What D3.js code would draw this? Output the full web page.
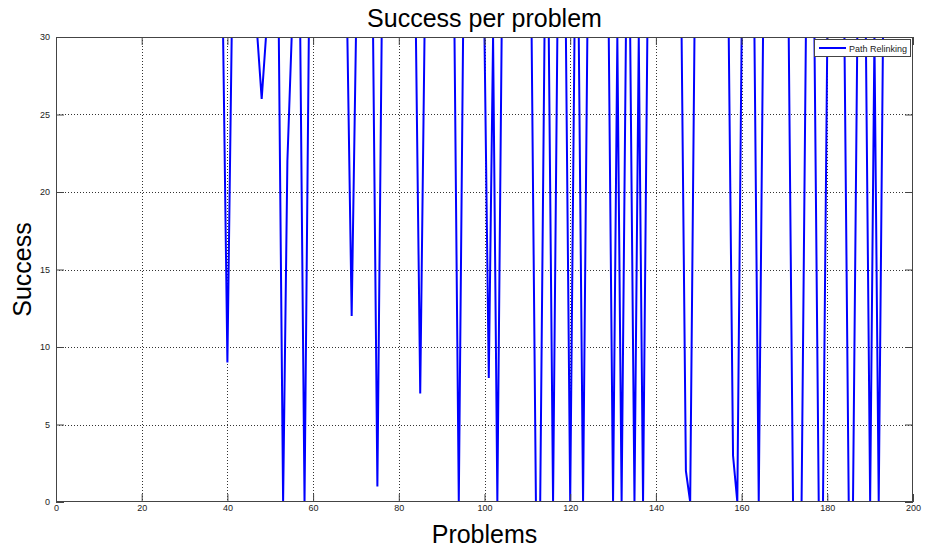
<!DOCTYPE html>
<html>
<head>
<meta charset="utf-8">
<script src="https://cdn.jsdelivr.net/npm/d3@7/dist/d3.min.js"></script>
<style>
  html, body { margin: 0; padding: 0; background: #fff; }
  svg { display: block; }
</style>
</head>
<body>
<div id="chart"></div>
<script>
// Successful runs (out of 30) for each of the 200 test problems
const problems = d3.range(1, 201);
const success = [
  30,30,30,30,30,30,30,30,30,30,
  30,30,30,30,30,30,30,30,30,30,
  30,30,30,30,30,30,30,30,30,30,
  30,30,30,30,30,30,30,30,30,9,
  30,30,30,30,30,30,30,26,30,30,
  30,30,0,22,30,30,30,0,30,30,
  30,30,30,30,30,30,30,30,12,30,
  30,30,30,30,1,30,30,30,30,30,
  30,30,30,30,7,30,30,30,30,30,
  30,30,30,0,30,30,30,30,30,30,
  8,30,0,30,30,30,30,30,30,30,
  30,0,0,30,30,0,30,30,30,0,
  30,30,0,30,30,30,30,30,30,0,
  30,0,30,30,0,30,0,30,30,30,
  30,30,30,30,30,30,2,0,30,30,
  30,30,30,30,30,30,30,3,0,30,
  30,30,30,0,30,30,30,30,30,30,
  30,0,0,0,30,30,30,0,0,30,
  30,30,30,30,0,0,30,30,30,0,
  30,0,30,30,30,30,30,30,30,30
];
const xTicks = [0, 20, 40, 60, 80, 100, 120, 140, 160, 180, 200];
const yTicks = [0, 5, 10, 15, 20, 25, 30];
const seriesName = "Path Relinking";
const titleText = "Success per problem";
const xLabel = "Problems";
const yLabel = "Success";

const W = 927, H = 554;
const margin = { top: 37, right: 14, bottom: 52, left: 56 };
const x0 = margin.left, x1 = W - margin.right;
const y0 = margin.top, y1 = H - margin.bottom;

const x = d3.scaleLinear().domain([0, 200]).range([x0, x1]);
const y = d3.scaleLinear().domain([0, 30]).range([y1, y0]);

const svg = d3.select("#chart").append("svg")
  .attr("width", W).attr("height", H);

svg.append("rect").attr("width", W).attr("height", H).attr("fill", "#fff");

const tickFont = "'Liberation Sans Narrow', 'Liberation Sans', Arial, sans-serif";
const labelFont = "'Liberation Sans', Arial, Helvetica, sans-serif";

// dotted grid
const grid = svg.append("g").attr("stroke", "#333").attr("stroke-width", 1)
  .attr("stroke-dasharray", "1,2");
grid.selectAll("line.gx").data(xTicks.filter(d => d > 0 && d < 200)).join("line")
  .attr("x1", d => Math.round(x(d)) + 0.5).attr("x2", d => Math.round(x(d)) + 0.5)
  .attr("y1", y0).attr("y2", y1);
grid.selectAll("line.gy").data(yTicks.filter(d => d > 0 && d < 30)).join("line")
  .attr("y1", d => Math.round(y(d)) + 0.5).attr("y2", d => Math.round(y(d)) + 0.5)
  .attr("x1", x0).attr("x2", x1);

// data line, clipped to the axes box
svg.append("clipPath").attr("id", "plotclip").append("rect")
  .attr("x", x0).attr("y", y0 + 1).attr("width", x1 - x0).attr("height", y1 - y0 - 1);

const line = d3.line().x((d, i) => x(problems[i])).y(d => y(d));
svg.append("path")
  .datum(success)
  .attr("clip-path", "url(#plotclip)")
  .attr("fill", "none")
  .attr("stroke", "#0000ff")
  .attr("stroke-width", 2)
  .attr("stroke-linejoin", "miter")
  .attr("d", line);

// axes with inward ticks on all four sides
const tickLen = 8;
const bottomAxis = d3.axisBottom(x).tickValues(xTicks).tickSizeInner(-tickLen).tickSizeOuter(0).tickPadding(3);
const topAxis = d3.axisTop(x).tickValues(xTicks).tickSizeInner(-tickLen).tickSizeOuter(0).tickFormat("");
const leftAxis = d3.axisLeft(y).tickValues(yTicks).tickSizeInner(-tickLen).tickSizeOuter(0).tickPadding(6);
const rightAxis = d3.axisRight(y).tickValues(yTicks).tickSizeInner(-tickLen).tickSizeOuter(0).tickFormat("");

function styleAxis(g) {
  g.select(".domain").remove();
  g.selectAll(".tick line").attr("stroke", "#444");
  g.selectAll(".tick text").attr("fill", "#222")
    .style("font-family", tickFont).style("font-size", "9px");
}
svg.append("g").attr("transform", `translate(0,${y1})`).call(bottomAxis).call(styleAxis);
svg.append("g").attr("transform", `translate(0,${y0})`).call(topAxis).call(styleAxis);
svg.append("g").attr("transform", `translate(${x0},0)`).call(leftAxis).call(styleAxis);
svg.append("g").attr("transform", `translate(${x1},0)`).call(rightAxis).call(styleAxis);

// axes box
svg.append("rect")
  .attr("x", x0 + 0.5).attr("y", y0 + 0.5)
  .attr("width", x1 - x0 - 1).attr("height", y1 - y0 - 1)
  .attr("fill", "none").attr("stroke", "#444").attr("stroke-width", 1);

// legend
const lg = svg.append("g").attr("transform", `translate(${x1 - 99},${y0 + 2})`);
lg.append("rect").attr("x", 0.5).attr("y", 0.5).attr("width", 96).attr("height", 17)
  .attr("fill", "#fff").attr("stroke", "#444");
lg.append("line").attr("x1", 5).attr("x2", 32).attr("y1", 9).attr("y2", 9)
  .attr("stroke", "#0000ff").attr("stroke-width", 2);
lg.append("text").attr("x", 35).attr("y", 12.5).text(seriesName)
  .style("font-family", tickFont).style("font-size", "9px").attr("fill", "#222");

// title and axis labels
svg.append("text").attr("x", (x0 + x1) / 2).attr("y", 27)
  .attr("text-anchor", "middle").text(titleText)
  .style("font-family", labelFont).style("font-size", "25px").attr("fill", "#000");
svg.append("text").attr("x", (x0 + x1) / 2).attr("y", 543)
  .attr("text-anchor", "middle").text(xLabel)
  .style("font-family", labelFont).style("font-size", "25px").attr("fill", "#000");
svg.append("text")
  .attr("transform", `translate(31,${(y0 + y1) / 2}) rotate(-90)`)
  .attr("text-anchor", "middle").text(yLabel)
  .style("font-family", labelFont).style("font-size", "25px").attr("fill", "#000");
</script>
</body>
</html>
